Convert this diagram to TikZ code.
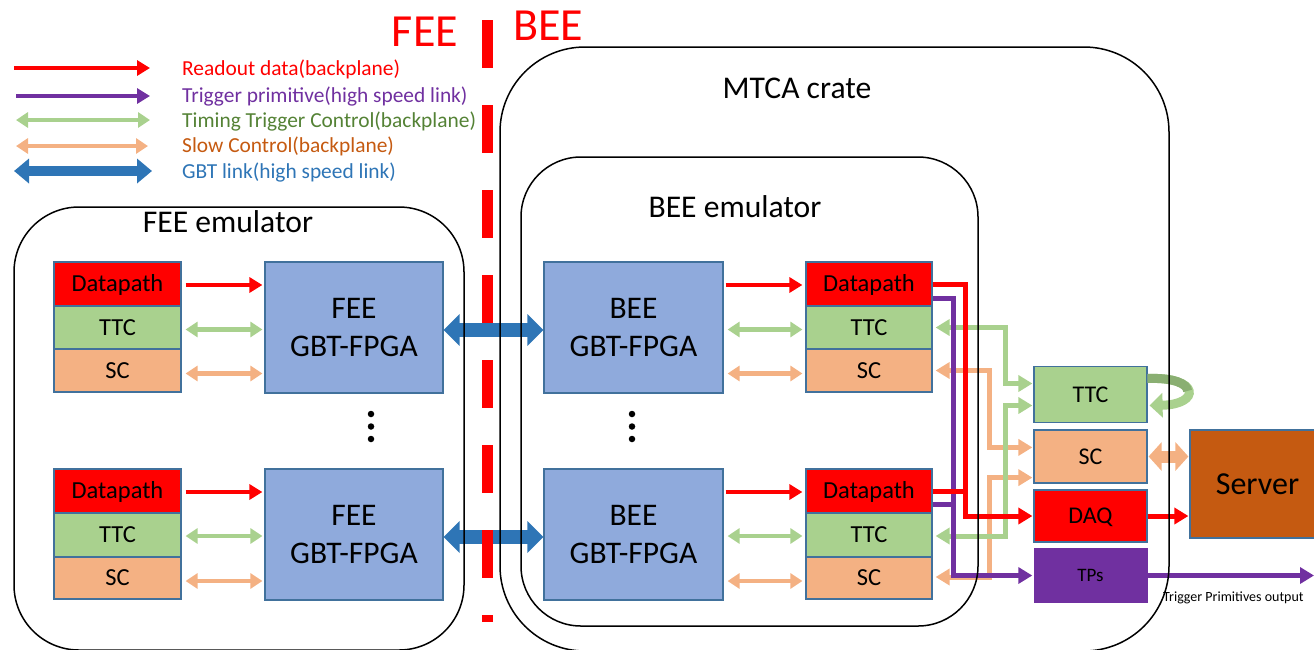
\documentclass[tikz,border=0pt]{standalone}
\usepackage{fontspec}
\setmainfont{Carlito}
\usetikzlibrary{arrows.meta,calc}
\definecolor{cRed}{HTML}{FF0000}
\definecolor{cPur}{HTML}{7030A0}
\definecolor{cGrn}{HTML}{A9D18E}
\definecolor{cGrnD}{HTML}{8AAF72}
\definecolor{cGrnT}{HTML}{548235}
\definecolor{cOrg}{HTML}{F4B183}
\definecolor{cOrgT}{HTML}{C55A11}
\definecolor{cBlu}{HTML}{2E75B6}
\definecolor{cBox}{HTML}{8FAADC}
\definecolor{cBord}{HTML}{41719C}
\definecolor{cSrv}{HTML}{C55A11}
\begin{document}
\begin{tikzpicture}[x=1pt,y=-1pt,
  fz/.style={font=\fontsize{#1}{#1}\selectfont, text height=0.644*#1, text depth=0pt},
  blk/.style={draw=cBord, line width=1.2pt, inner sep=0pt},
  dpbox/.style={blk, fill=cRed, fz=24.5, minimum width=127pt},
  ttcbox/.style={blk, fill=cGrn, fz=24.5, minimum width=127pt},
  scbox/.style={blk, fill=cOrg, fz=24.5, minimum width=127pt},
  gbtbox/.style={blk, fill=cBox, font=\fontsize{31.5}{38}\selectfont, align=center, minimum width=179pt, minimum height=131pt},
  container/.style={draw=black, line width=1.5pt, inner sep=0pt},
  dotn/.style={circle, fill=black, inner sep=0pt, minimum size=6.5pt},
  rarr/.style={cRed, line width=4.5pt, -{Triangle[width=15pt,length=13pt]}},
  parr/.style={cPur, line width=4.5pt, -{Triangle[width=15pt,length=13pt]}},
  garr/.style={cGrn, line width=4.5pt, {Triangle[width=15pt,length=12pt]}-{Triangle[width=15pt,length=12pt]}},
  oarr/.style={cOrg, line width=4.5pt, {Triangle[width=15pt,length=12pt]}-{Triangle[width=15pt,length=12pt]}},
  barr/.style={cBlu, line width=14pt, {Triangle[width=31pt,length=16pt]}-{Triangle[width=31pt,length=16pt]}},
  lbarr/.style={cBlu, line width=10pt, {Triangle[width=24pt,length=15pt]}-{Triangle[width=24pt,length=15pt]}},
  rline/.style={cRed, line width=5pt},
  pline/.style={cPur, line width=5pt},
  gline/.style={cGrn, line width=5pt, {Triangle[width=16pt,length=14pt]}-{Triangle[width=16pt,length=14pt]}},
  oline/.style={cOrg, line width=5pt, {Triangle[width=16pt,length=14pt]}-{Triangle[width=16pt,length=14pt]}},
  headR/.style={-{Triangle[width=16pt,length=14pt]}}
]
\useasboundingbox (0,0) rectangle (1314,649);
\clip (0,0) rectangle (1314,649);

% ---------- legend ----------
\coordinate (l1a) at (14,68);  \coordinate (l1b) at (150,68);
\coordinate (l2a) at (16,96);  \coordinate (l2b) at (150,96);
\coordinate (l3a) at (16,120); \coordinate (l3b) at (150,120);
\coordinate (l4a) at (16,146); \coordinate (l4b) at (148,146);
\coordinate (l5a) at (14,171); \coordinate (l5b) at (152,171);
\draw[rarr] (l1a) -- (l1b);
\draw[parr] (l2a) -- (l2b);
\draw[garr] (l3a) -- (l3b);
\draw[oarr] (l4a) -- (l4b);
\draw[lbarr] (l5a) -- (l5b);
\node[fz=21.4, anchor=west, text=cRed, inner sep=0pt] (t1) at (182,69) {Readout data(backplane)};
\node[fz=21.4, anchor=west, text=cPur, inner sep=0pt] (t2) at (182,96) {Trigger primitive(high speed link)};
\node[fz=21.4, anchor=west, text=cGrnT, inner sep=0pt] (t3) at (182,121) {Timing Trigger Control(backplane)};
\node[fz=21.4, anchor=west, text=cOrgT, inner sep=0pt] (t4) at (182,146) {Slow Control(backplane)};
\node[fz=21.4, anchor=west, text=cBlu, inner sep=0pt] (t5) at (182,172) {GBT link(high speed link)};

\node[fz=46, text=cRed, inner sep=0pt] (feelbl) at (425,31.5) {FEE};
\node[fz=46, text=cRed, inner sep=0pt] (beelbl) at (548,26) {BEE};

% ---------- FEE side ----------
\node[dpbox, minimum height=44pt] (fdp1) at (117.5,284) {Datapath};
\node[ttcbox, minimum height=43pt] (fttc1) at (117.5,327.5) {TTC};
\node[scbox, minimum height=43pt] (fsc1) at (117.5,370.5) {SC};
\node[gbtbox, minimum width=178pt] (fgbt1) at (354,327.5) {FEE\\GBT-FPGA};

\node[dpbox, minimum height=44pt] (fdp2) at (117.5,491) {Datapath};
\node[ttcbox, minimum height=44pt] (fttc2) at (117.5,535) {TTC};
\node[scbox, minimum height=42pt] (fsc2) at (117.5,578) {SC};
\node[gbtbox, minimum width=178pt] (fgbt2) at (354,534.5) {FEE\\GBT-FPGA};

\draw[rarr] ($(fdp1.east)+(4,1)$) -- ($(fdp1.east -| fgbt1.west)+(-2,1)$);
\draw[garr] ($(fttc1.east)+(4,2)$) -- ($(fttc1.east -| fgbt1.west)+(-2,2)$);
\draw[oarr] ($(fsc1.east)+(4,3)$) -- ($(fsc1.east -| fgbt1.west)+(-2,3)$);
\draw[rarr] ($(fdp2.east)+(4,1)$) -- ($(fdp2.east -| fgbt2.west)+(-2,1)$);
\draw[garr] ($(fttc2.east)+(4,1)$) -- ($(fttc2.east -| fgbt2.west)+(-2,1)$);
\draw[oarr] ($(fsc2.east)+(4,3)$) -- ($(fsc2.east -| fgbt2.west)+(-2,3)$);

\node[dotn] (fd1) at (371,414) {};
\node[dotn] (fd2) at (371,426.5) {};
\node[dotn] (fd3) at (371,439) {};

% ---------- BEE side ----------
\node[gbtbox] (bgbt1) at (633.5,327.5) {BEE\\GBT-FPGA};
\node[gbtbox] (bgbt2) at (633.5,534.5) {BEE\\GBT-FPGA};

\node[dpbox, minimum width=126pt, minimum height=44pt] (bdp1) at (869,284) {Datapath};
\node[ttcbox, minimum width=126pt, minimum height=43pt] (bttc1) at (869,327.5) {TTC};
\node[scbox, minimum width=126pt, minimum height=43pt] (bsc1) at (869,370.5) {SC};
\node[dpbox, minimum width=126pt, minimum height=44pt] (bdp2) at (869,491) {Datapath};
\node[ttcbox, minimum width=126pt, minimum height=44pt] (bttc2) at (869,535) {TTC};
\node[scbox, minimum width=126pt, minimum height=42pt] (bsc2) at (869,578) {SC};

\draw[rarr] ($(bgbt1.east |- bdp1.west)+(2,1)$) -- ($(bdp1.west)+(-3,1)$);
\draw[garr] ($(bgbt1.east |- bttc1.west)+(4,2)$) -- ($(bttc1.west)+(-3,2)$);
\draw[oarr] ($(bgbt1.east |- bsc1.west)+(4,3)$) -- ($(bsc1.west)+(-3,3)$);
\draw[rarr] ($(bgbt2.east |- bdp2.west)+(2,1)$) -- ($(bdp2.west)+(-3,1)$);
\draw[garr] ($(bgbt2.east |- bttc2.west)+(4,1)$) -- ($(bttc2.west)+(-3,1)$);
\draw[oarr] ($(bgbt2.east |- bsc2.west)+(4,3)$) -- ($(bsc2.west)+(-3,3)$);

\node[dotn] (bd1) at (632,414) {};
\node[dotn] (bd2) at (632,426.5) {};
\node[dotn] (bd3) at (632,439) {};

% GBT links
\draw[barr] ($(fgbt1.east)+(0,2.5)$) -- ($(bgbt1.west)+(0,2.5)$);
\draw[barr] ($(fgbt2.east)+(0,2.5)$) -- ($(bgbt2.west)+(0,2.5)$);

% FEE/BEE divider
\coordinate (dv1) at (487,20);
\coordinate (dv2) at (487,622);
\draw[cRed, line width=11pt, dash pattern=on 48pt off 37pt] (dv1) -- (dv2);

% ---------- right column ----------
\node[blk, fill=cGrn, fz=24, minimum width=113pt, minimum height=56pt] (rttc) at (1090.5,394.5) {TTC};
\node[blk, fill=cOrg, fz=24, minimum width=113pt, minimum height=53pt] (rsc) at (1090.5,456.5) {SC};
\node[blk, fill=cRed, fz=24, minimum width=113pt, minimum height=52pt] (daq) at (1090.5,516) {DAQ};
\node[fill=cPur, inner sep=0pt, fz=19, minimum width=114pt, minimum height=55pt] (tps) at (1090.5,575.5) {TPs};
\node[blk, fill=cSrv, fz=32, minimum width=135pt, minimum height=108pt] (srv) at (1257.5,484) {Server};
\node[fz=14, anchor=west, inner sep=0pt] (tpo) at (1163,597) {Trigger Primitives output};
\coordinate (tpout) at (1314,575.5);

\coordinate (xr) at (965,0);
\coordinate (xp) at (953,0);
\coordinate (xg) at (1005,0);
\coordinate (xo) at (989,0);

% slow control routing
\draw[oline] ($(bsc1.east)+(3,0)$) -- (bsc1.east -| xo) |- ($(rsc.north west)+(-1,18)$);
\draw[oline] ($(bsc2.east)+(3,-1)$) -- ($(bsc2.east -| xo)+(0,-1)$) |- ($(rsc.south west)+(-1,-6)$);
% TTC routing
\draw[gline] ($(bttc1.east)+(3,0)$) -- (bttc1.east -| xg) |- ($(rttc.west)+(-1,-11)$);
\draw[gline] ($(bttc2.east)+(3,1)$) -- ($(bttc2.east -| xg)+(0,1)$) |- ($(rttc.west)+(-1,11)$);
% trigger primitives routing
\draw[pline, headR] ($(bdp1.east)+(0,14)$) -- ($(bdp1.east -| xp)+(0,14)$) |- ($(tps.west)+(-1,0)$);
\draw[pline] ($(bdp2.east)+(0,13)$) -- ($(bdp2.east -| xp)+(3,13)$);
% readout routing
\draw[rline, headR] (bdp1.east) -- (bdp1.east -| xr) |- ($(daq.west)+(-1,0)$);
\draw[rline] (bdp2.east) -- ($(bdp2.east -| xr)+(2.5,0)$);

% server links
\draw[cOrg, line width=12pt, {Triangle[width=28pt,length=13pt]}-{Triangle[width=28pt,length=13pt]}] ($(rsc.east)+(1,0)$) -- ($(rsc.east -| srv.west)+(-1,0)$);
\draw[rline, headR] (daq.east) -- ($(daq.east -| srv.west)+(-1,0)$);
\draw[pline, headR] (tps.east) -- (tpout);

% TTC loop
\draw[cGrn, line width=9pt, -{Triangle[width=24pt,length=13pt]}]
  ($(rttc.east)+(0,-16)$) .. controls ($(rttc.east)+(53,-18)$) and ($(rttc.east)+(53,10)$) .. ($(rttc.east)+(2,11)$);
\draw[cGrnD, line width=9pt]
  ($(rttc.east)+(0,-16)$) .. controls ($(rttc.east)+(26.5,-17)$) and ($(rttc.east)+(39.75,-10.6)$) .. ($(rttc.east)+(40,-3.6)$);

% ---------- containers ----------
\node[container, rounded corners=65pt, minimum width=450pt, minimum height=443pt] (femu) at (239,428.5) {};
\node[container, rounded corners=85pt, minimum width=669pt, minimum height=604pt] (mtca) at (834.5,349) {};
\node[container, rounded corners=60pt, minimum width=457pt, minimum height=469pt] (bemu) at (749.5,391.5) {};
\node[fz=31.6, inner sep=0pt] (femut) at (228,222.5) {FEE emulator};
\node[fz=31.6, inner sep=0pt] (bemut) at (735,207) {BEE emulator};
\node[fz=31.6, inner sep=0pt] (mtcat) at (797,88) {MTCA crate};
\end{tikzpicture}
\end{document}
